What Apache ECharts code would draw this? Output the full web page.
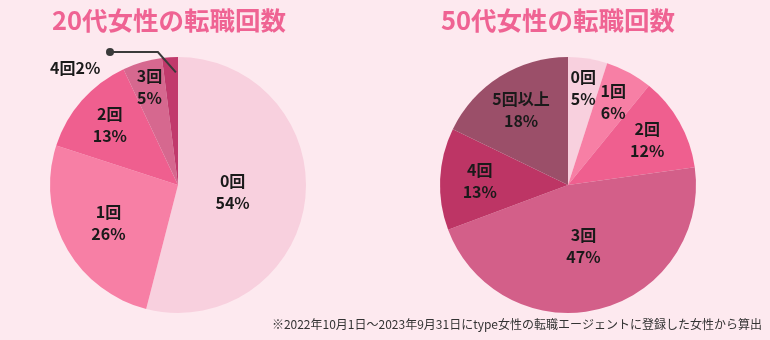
<!DOCTYPE html>
<html>
<head>
<meta charset="utf-8">
<script src="https://cdn.jsdelivr.net/npm/echarts@6/dist/echarts.min.js"></script>
<style>
  html, body { margin: 0; padding: 0; background: #fde9ef; }
  #c { width: 770px; height: 340px; }
</style>
</head>
<body>
<div id="c"></div>
<script>
// Job-change counts, women in their 20s and 50s (percent)
const cats20 = ['0回', '1回', '2回', '3回', '4回'];
const vals20 = [54, 26, 13, 5, 2];
const cats50 = ['0回', '1回', '2回', '3回', '4回', '5回以上'];
const vals50 = [5, 6, 12, 47, 13, 18];

const title20 = '20代女性の転職回数';
const title50 = '50代女性の転職回数';
const note = '※2022年10月1日～2023年9月31日にtype女性の転職エージェントに登録した女性から算出';

const colors20 = ['#f8d0de', '#f77fa5', '#ef5f8f', '#d6688f', '#c13a6c'];
const colors50 = ['#f8d0de', '#f77fa5', '#ef5f8f', '#d35f89', '#bd3565', '#9b4f69'];

// radial placement of each inside label, as a fraction of the radius
const labelR20 = [0.43, 0.62, 0.71, 0.80, null];
const labelR50 = [0.77, 0.74, 0.71, 0.49, 0.69, 0.69];

const R = 128;
const C20 = [178, 185];
const C50 = [568, 185];
const FONT = '"Noto Sans CJK JP", "Noto Sans", sans-serif';

// angle (radians, clockwise from 12 o'clock) at a fraction t through slice i
function sliceAngle(vals, i, t) {
  const sum = vals.reduce((a, b) => a + b, 0);
  let acc = 0;
  for (let k = 0; k < i; k++) acc += vals[k];
  return (acc + vals[i] * t) / sum * 2 * Math.PI;
}
function polar(c, a, r) {
  return [c[0] + Math.sin(a) * r, c[1] - Math.cos(a) * r];
}

// the thin last slice of the 20s pie gets an outside callout
const calloutIdx = 4;
const anchor = polar(C20, sliceAngle(vals20, calloutIdx, 0.85), R * 0.88);
const elbow = [anchor[0] - 18, 52];
const dot = [110, 52];

function makeSeries(cats, vals, colors, center, labelR, withCallout) {
  return {
    type: 'pie',
    center: center,
    radius: R,
    startAngle: 90,
    clockwise: true,
    silent: true,
    animation: false,
    data: cats.map((n, i) => ({ name: n, value: vals[i], itemStyle: { color: colors[i] } })),
    label: {
      show: true,
      position: 'inside',
      color: '#1a1a1a',
      fontFamily: FONT,
      fontWeight: 'bold',
      fontSize: 16,
      lineHeight: 22,
      formatter: p => (withCallout && p.dataIndex === calloutIdx)
        ? p.name + p.value + '%'
        : p.name + '\n' + p.value + '%'
    },
    labelLine: { show: false },
    labelLayout: function (p) {
      if (withCallout && p.dataIndex === calloutIdx) {
        return { x: 50, y: 68, align: 'left', verticalAlign: 'middle' };
      }
      const pt = polar(center, sliceAngle(vals, p.dataIndex, 0.5), R * labelR[p.dataIndex]);
      return { x: pt[0], y: pt[1], align: 'center', verticalAlign: 'middle' };
    }
  };
}

const chart = echarts.init(document.getElementById('c'));
chart.setOption({
  backgroundColor: '#fde9ef',
  title: [
    { text: title20, left: 52, top: 8, padding: 0,
      textStyle: { color: '#ef6393', fontSize: 25.5, fontWeight: 'bold', fontFamily: FONT } },
    { text: title50, left: 441, top: 8, padding: 0,
      textStyle: { color: '#ef6393', fontSize: 25.5, fontWeight: 'bold', fontFamily: FONT } },
    { text: note, right: 8, top: 318, padding: 0,
      textStyle: { color: '#333', fontSize: 12, fontWeight: 'normal', fontFamily: FONT } }
  ],
  graphic: [
    { type: 'polyline', silent: true, z: 10,
      shape: { points: [dot, elbow, anchor] },
      style: { stroke: '#3a3a3a', lineWidth: 2, fill: null } },
    { type: 'circle', silent: true, z: 10,
      shape: { cx: dot[0], cy: dot[1], r: 4 },
      style: { fill: '#3a3a3a' } }
  ],
  series: [
    makeSeries(cats20, vals20, colors20, C20, labelR20, true),
    makeSeries(cats50, vals50, colors50, C50, labelR50, false)
  ]
});
</script>
</body>
</html>
